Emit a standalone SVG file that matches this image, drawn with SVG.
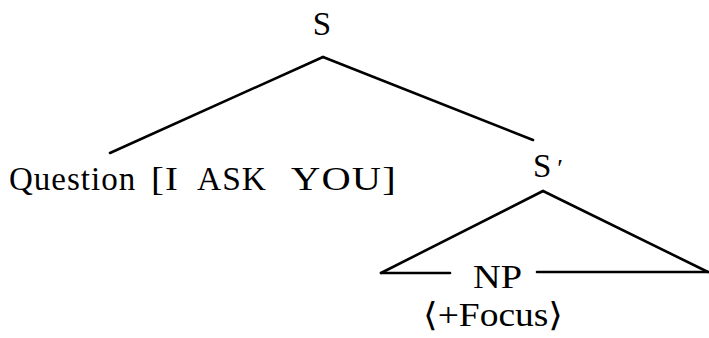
<svg xmlns="http://www.w3.org/2000/svg" width="709" height="338" viewBox="0 0 709 338">
<style>
.t{font-family:"Liberation Serif","DejaVu Serif",serif;font-size:33px;fill:#000}
.e{stroke:#000;stroke-width:2.6;fill:none;stroke-linecap:round}
</style>
<rect width="709" height="338" fill="#fff"/>
<g id="connectors">
<line class="e" x1="323" y1="57" x2="110" y2="153"/>
<line class="e" x1="323" y1="57" x2="533" y2="140"/>
<line class="e" x1="543" y1="191" x2="381" y2="273"/>
<line class="e" x1="543" y1="191" x2="708" y2="272"/>
<line class="e" x1="381" y1="273" x2="450" y2="273"/>
<line class="e" x1="537" y1="272" x2="708" y2="272"/>
</g>
<g id="node-S"><text class="t" x="322" y="35" text-anchor="middle">S</text></g>
<g id="node-question"><text class="t" y="190" letter-spacing="1"><tspan x="9">Question</tspan> <tspan x="151" textLength="28" lengthAdjust="spacingAndGlyphs">[I</tspan> <tspan x="197" textLength="70" lengthAdjust="spacingAndGlyphs">ASK</tspan> <tspan x="291" textLength="106" lengthAdjust="spacingAndGlyphs">YOU]</tspan></text></g>
<g id="node-Sprime"><text class="t" x="533" y="177">S<tspan dx="6" font-size="26">′</tspan></text></g>
<g id="node-NP"><text class="t" x="473" y="288" textLength="49" lengthAdjust="spacingAndGlyphs">NP</text>
<text class="t" x="423" y="326" textLength="140" lengthAdjust="spacingAndGlyphs">⟨+Focus⟩</text></g>
</svg>
